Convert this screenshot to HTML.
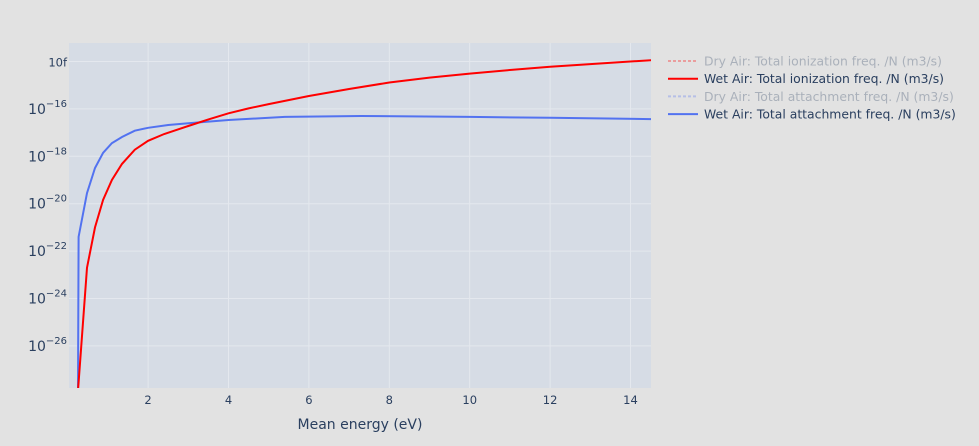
<!DOCTYPE html>
<html><head><meta charset="utf-8"><style>
body{margin:0;background:#e2e2e2;font-family:"DejaVu Sans",sans-serif;}
svg{display:block}
</style></head><body>
<svg id="chart" width="979" height="446" xmlns="http://www.w3.org/2000/svg" font-family="DejaVu Sans, sans-serif">
<rect width="979" height="446" fill="#e2e2e2"/>
<rect x="69" y="43" width="582" height="345" fill="#d6dce5"/>
<g id="grid"></g><g id="series"></g><g id="axes"></g><g id="legend"></g>
<text x="360" y="429" text-anchor="middle" font-size="14" fill="#2a3f5f">Mean energy (eV)</text>
</svg>
<script>
const ionX=[0.25,0.48,0.68,0.88,1.1,1.35,1.67,2.0,2.4,3.0,3.5,4.0,4.5,5.0,6.0,7.0,8.0,9.0,10,11,12,13,14.55];
const ionY=[1e-28,2e-23,1e-21,1.45e-20,1e-19,4.8e-19,1.9e-18,4.5e-18,8.7e-18,1.9e-17,3.6e-17,6.5e-17,1.05e-16,1.6e-16,3.5e-16,6.9e-16,1.3e-15,2.1e-15,3.1e-15,4.4e-15,6e-15,7.8e-15,1.15e-14];
const attX=[0.25,0.27,0.48,0.68,0.88,1.1,1.35,1.67,2.0,2.5,3.0,4.0,5.4,7.3,10,12,14.55];
const attY=[1e-30,4e-22,2.8e-20,3.2e-19,1.4e-18,3.6e-18,6.5e-18,1.2e-17,1.6e-17,2.1e-17,2.5e-17,3.4e-17,4.6e-17,5e-17,4.6e-17,4.2e-17,3.7e-17];
const xTicks=[2,4,6,8,10,12,14];
const yTicks=[-26,-24,-22,-20,-18,-16,-14];
const yTickLabels=["10<tspan dy='-7' font-size='10'>−26</tspan>","10<tspan dy='-7' font-size='10'>−24</tspan>","10<tspan dy='-7' font-size='10'>−22</tspan>","10<tspan dy='-7' font-size='10'>−20</tspan>","10<tspan dy='-7' font-size='10'>−18</tspan>","10<tspan dy='-7' font-size='10'>−16</tspan>","10f"];
const legendNames=["Dry Air: Total ionization freq. /N (m3/s)","Wet Air: Total ionization freq. /N (m3/s)","Dry Air: Total attachment freq. /N (m3/s)","Wet Air: Total attachment freq. /N (m3/s)"];

const L=69,R=651,T=43,B=388;
const xs=x=>67.7+x*40.2;
const ys=v=>61.5-(Math.log10(v)+14)*23.7;
const NS="http://www.w3.org/2000/svg";
function mk(t,a,p){const e=document.createElementNS(NS,t);for(const k in a)e.setAttribute(k,a[k]);p.appendChild(e);return e;}
const grid=document.getElementById('grid'),axes=document.getElementById('axes'),ser=document.getElementById('series'),leg=document.getElementById('legend');
xTicks.forEach(t=>{const X=xs(t);
 const g=mk('line',{x1:X,x2:X,y1:T,y2:B,stroke:'#e4e8ee','stroke-width':1},grid);
 
 
 const l=mk('text',{x:X,y:404,'text-anchor':'middle','font-size':11.5,fill:'#2a3f5f'},axes);l.textContent=t;
 
 });
yTicks.forEach((t,i)=>{const Y=ys(Math.pow(10,t));
 const g=mk('line',{x1:L,x2:R,y1:Y,y2:Y,stroke:'#e4e8ee','stroke-width':1},grid);
 
 
 const l=mk('text',{x:67,y:Y+5,'text-anchor':'end','font-size':i==6?11.5:14,fill:'#2a3f5f'},axes);l.innerHTML=yTickLabels[i];
 
 });
const cp=mk('clipPath',{id:'cp'},ser);mk('rect',{x:L,y:T,width:R-L,height:B-T},cp);
function line(xa,ya,c,name){const d=xa.map((x,i)=>(i?'L':'M')+xs(x).toFixed(1)+','+ys(ya[i]).toFixed(1)).join('');
 const p=mk('path',{d:d,fill:'none',stroke:c,'stroke-width':2,'clip-path':'url(#cp)'},ser);
 
 }
line(attX,attY,'#5272f0','wet-attachment-line');
line(ionX,ionY,'#ff0000','wet-ionization-line');
const lc=['#ff0000','#ff0000','#5272f0','#5272f0'];
legendNames.forEach((n,i)=>{const Y=61+i*17.7;const faded=i%2==0;
 const g=mk('g',{opacity:faded?0.3:1},leg);
 
 
 mk('line',{x1:668,x2:698,y1:Y,y2:Y,stroke:lc[i],'stroke-width':2,'stroke-dasharray':faded?'3,2':'none'},g);
 const t=mk('text',{x:704,y:Y+4.5,'font-size':12.4,fill:'#2a3f5f'},g);t.textContent=n;});
</script>
</body></html>
